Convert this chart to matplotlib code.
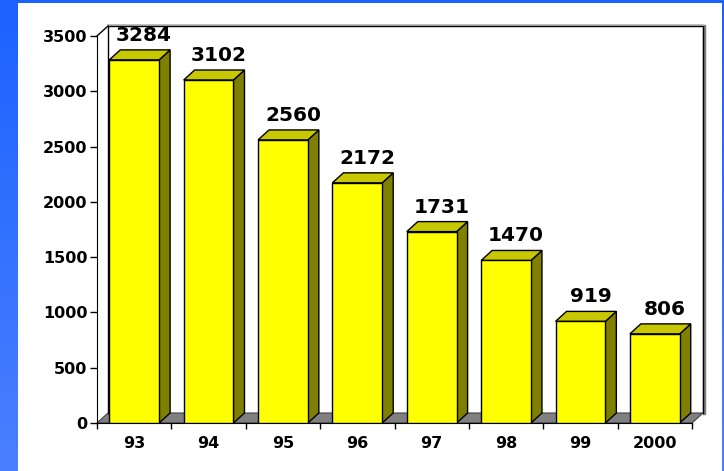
import numpy as np
import matplotlib.pyplot as plt
from matplotlib.patches import Polygon, Rectangle
from matplotlib.colors import LinearSegmentedColormap

# data
years = ['93', '94', '95', '96', '97', '98', '99', '2000']
values = [3284, 3102, 2560, 2172, 1731, 1470, 919, 806]
yticks = [0, 500, 1000, 1500, 2000, 2500, 3000, 3500]

W, H = 724, 471
fig = plt.figure(figsize=(W / 100, H / 100), dpi=100)

# blue background with a soft vertical gradient (darker at the top)
bg = fig.add_axes([0, 0, 1, 1], zorder=-10)
cmap = LinearSegmentedColormap.from_list('bg', ['#1c62ff', '#4a80ff'])
bg.imshow(np.linspace(0, 1, 256).reshape(-1, 1), aspect='auto', cmap=cmap,
          extent=[0, 1, 0, 1])
bg.add_patch(Rectangle((18 / W, 0), (722 - 18) / W, (H - 3) / H,
                       facecolor='white', edgecolor='none'))
bg.set_xlim(0, 1)
bg.set_ylim(0, 1)
bg.axis('off')

# plot axes placed in pixel terms
px_per_cat = (692 - 97) / 8
px_per_val = (423 - 36) / 3500
xmin, xmax = -0.5, 7.7
ymin, ymax = 0, 3700
ax = fig.add_axes([97 / W, (H - 423) / H,
                   (xmax - xmin) * px_per_cat / W,
                   (ymax - ymin) * px_per_val / H])
ax.set_xlim(xmin, xmax)
ax.set_ylim(ymin, ymax)
ax.patch.set_alpha(0)

dx = 11 / px_per_cat   # depth offset in category units
dy = 10 / px_per_val   # depth offset in value units
w = 0.67
x = np.arange(len(years))
top = yticks[-1]
n = len(years)

# back wall and floor
ax.add_patch(Polygon([(-0.5, 0), (n - 0.5, 0), (n - 0.5 + dx, dy), (-0.5 + dx, dy)],
                     closed=True, facecolor='#808080', edgecolor='#404040',
                     lw=0.8, zorder=1, clip_on=False))
ax.plot([n - 0.5 + dx + 0.02, n - 0.5 + dx + 0.02], [dy, top + dy], color='#808080',
        lw=2.5, zorder=1, clip_on=False)
ax.plot([-0.5 + dx, n - 0.5 + dx], [top + dy + 12, top + dy + 12], color='#c0c0c0',
        lw=1.5, zorder=1, clip_on=False)
ax.plot([-0.5 + dx, -0.5 + dx, n - 0.5 + dx, n - 0.5 + dx],
        [dy, top + dy, top + dy, dy], color='black', lw=1, zorder=1, clip_on=False)
ax.plot([-0.5, -0.5 + dx], [top, top + dy], color='black', lw=1, zorder=1,
        clip_on=False)

# bars
ax.bar(x, values, width=w, color='#ffff00', edgecolor='black', lw=1, zorder=3)
for xi, v in zip(x, values):
    r = xi + w / 2
    l = xi - w / 2
    ax.add_patch(Polygon([(r, 0), (r + dx, dy), (r + dx, v + dy), (r, v)],
                         closed=True, facecolor='#808000', edgecolor='black',
                         lw=1, zorder=2))
    ax.add_patch(Polygon([(l, v), (l + dx, v + dy), (r + dx, v + dy), (r, v)],
                         closed=True, facecolor='#c8c800', edgecolor='black',
                         lw=1, zorder=2, clip_on=False))
    ax.text(xi + dx / 2 + 0.06, v + dy + 45, str(v), ha='center', va='bottom',
            fontsize=14.5, fontweight='bold', color='black')

# axes
for s in ['top', 'right']:
    ax.spines[s].set_visible(False)
ax.spines['left'].set_bounds(0, top)
ax.spines['bottom'].set_bounds(-0.5, n - 0.5)
ax.set_yticks(yticks)
ax.set_yticklabels([str(t) for t in yticks])
ax.set_xticks(np.arange(-0.5, n, 1.0))
ax.set_xticklabels([])
ax.set_xticks(x, minor=True)
ax.set_xticklabels(years, minor=True)
ax.tick_params(axis='y', direction='out', length=5, width=1, pad=2,
               labelsize=11.5)
ax.tick_params(axis='x', which='major', direction='out', length=4, width=1)
ax.tick_params(axis='x', which='minor', length=0, pad=9, labelsize=11.5)
for lab in ax.get_yticklabels() + ax.get_xticklabels(minor=True):
    lab.set_fontweight('bold')

fig.savefig('out.png', dpi=100)
